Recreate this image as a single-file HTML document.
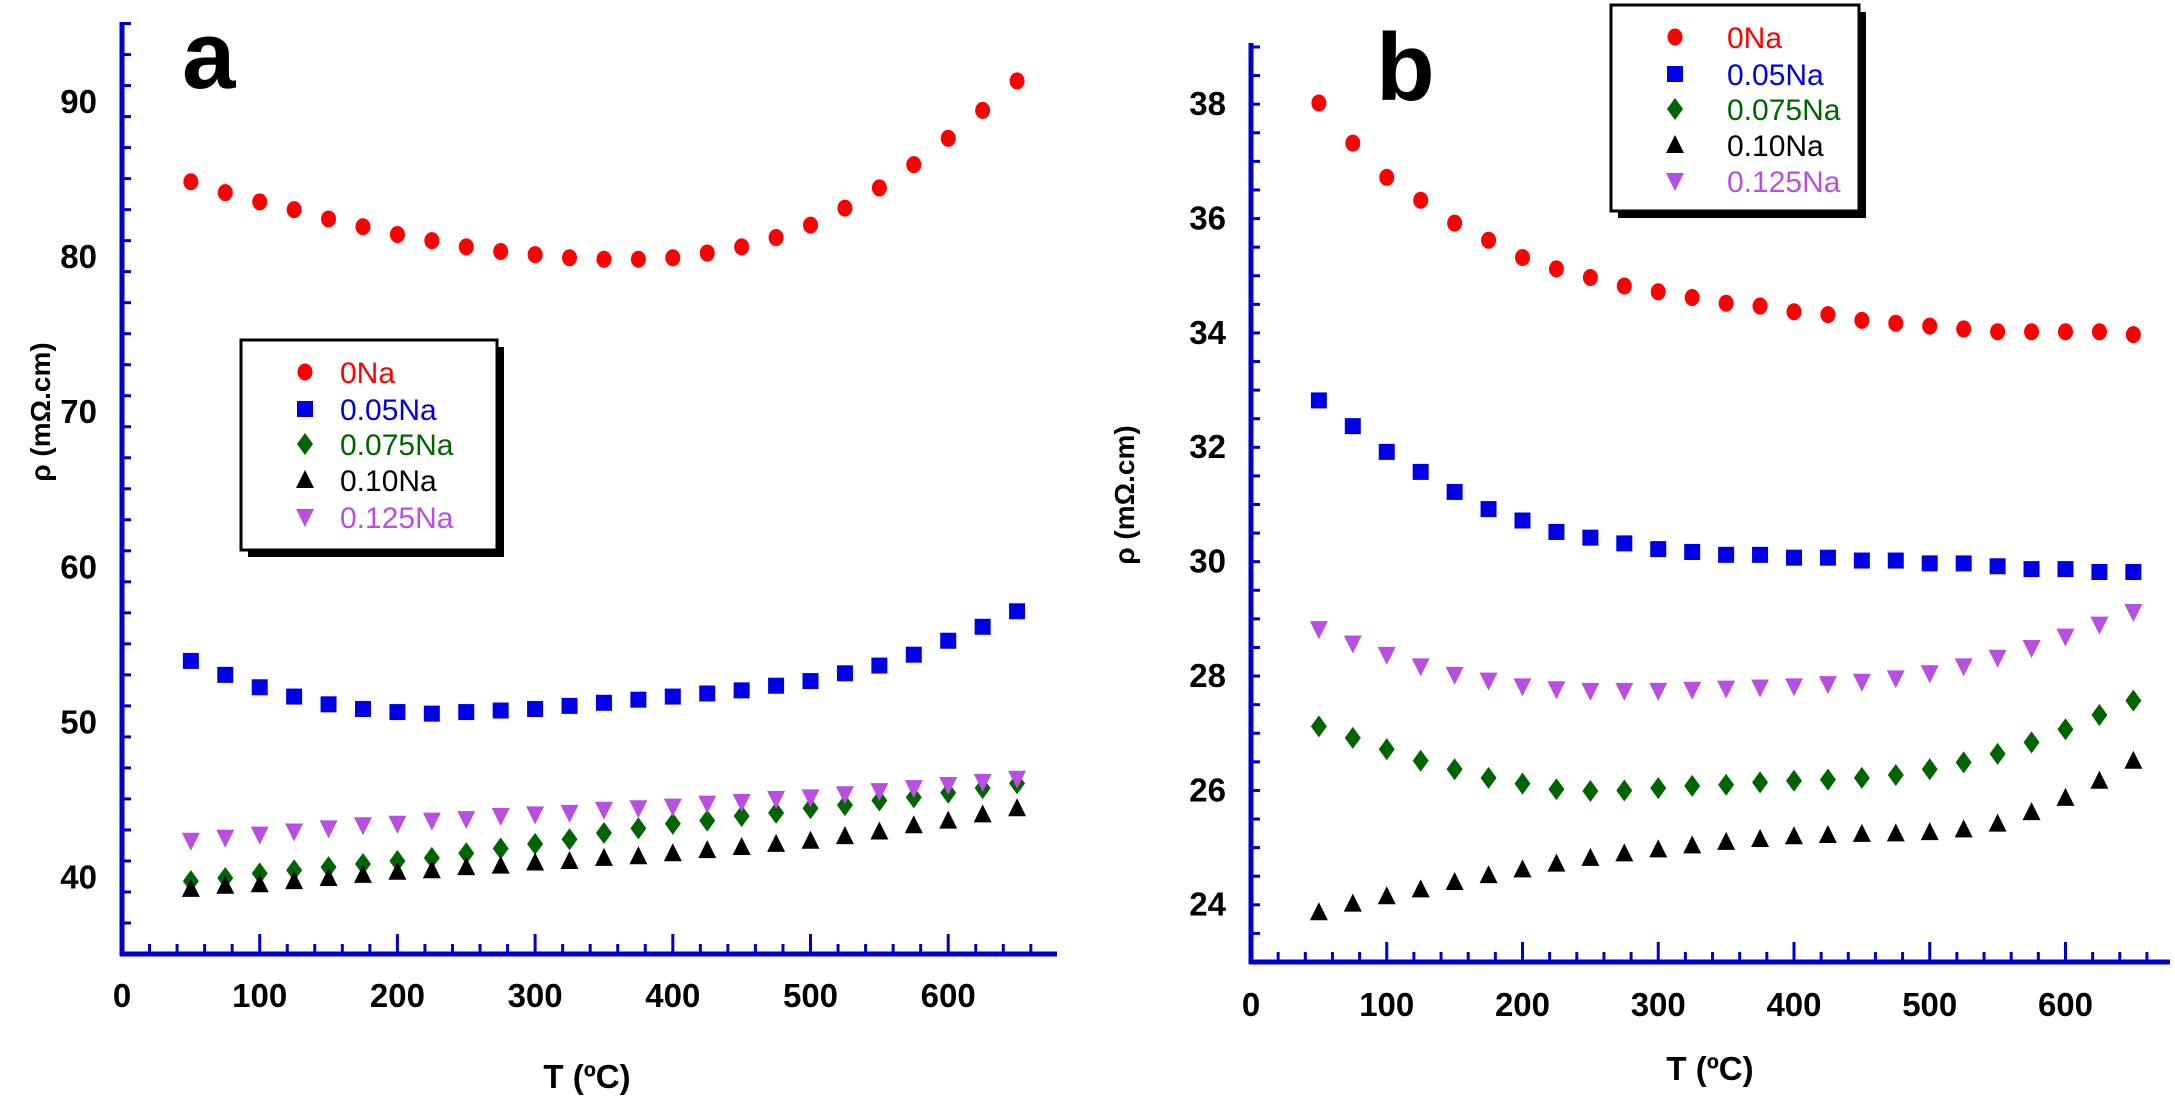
<!DOCTYPE html>
<html><head><meta charset="utf-8"><style>
html,body{margin:0;padding:0;background:#fff}
svg{display:block;font-family:"Liberation Sans",Arial,sans-serif}
</style></head><body>
<svg id="svg" width="2175" height="1096" viewBox="0 0 2175 1096" xmlns="http://www.w3.org/2000/svg"></svg>
<script>
const temps=[50,75,100,125,150,175,200,225,250,275,300,325,350,375,400,425,450,475,500,525,550,575,600,625,650];
const seriesNames=["0Na","0.05Na","0.075Na","0.10Na","0.125Na"];
const xTicks=[0,100,200,300,400,500,600];
const aYTicks=[40,50,60,70,80,90];
const bYTicks=[24,26,28,30,32,34,36,38];
const a0=[84.8,84.1,83.5,83.0,82.4,81.9,81.4,81.0,80.6,80.3,80.1,79.9,79.8,79.8,79.9,80.2,80.6,81.2,82.0,83.1,84.4,85.9,87.6,89.4,91.3];
const a05=[53.9,53.0,52.2,51.6,51.1,50.8,50.6,50.5,50.6,50.7,50.8,51.0,51.2,51.4,51.6,51.8,52.0,52.3,52.6,53.1,53.6,54.3,55.2,56.1,57.1];
const a075=[39.7,39.9,40.2,40.4,40.6,40.8,41.0,41.2,41.5,41.8,42.1,42.4,42.8,43.1,43.4,43.6,43.9,44.1,44.4,44.6,44.9,45.1,45.4,45.7,46.0];
const a10=[39.2,39.4,39.5,39.7,39.9,40.1,40.3,40.4,40.6,40.7,40.9,41.0,41.2,41.3,41.5,41.7,41.9,42.1,42.3,42.6,42.9,43.3,43.6,44.0,44.4];
const a125=[42.3,42.5,42.7,42.9,43.1,43.3,43.4,43.6,43.7,43.9,44.0,44.1,44.3,44.4,44.5,44.7,44.8,45.0,45.1,45.3,45.5,45.7,45.9,46.1,46.3];
const b0=[38.0,37.3,36.7,36.3,35.9,35.6,35.3,35.1,34.95,34.8,34.7,34.6,34.5,34.45,34.35,34.3,34.2,34.15,34.1,34.05,34.0,34.0,34.0,34.0,33.95];
const b05=[32.8,32.35,31.9,31.55,31.2,30.9,30.7,30.5,30.4,30.3,30.2,30.15,30.1,30.1,30.05,30.05,30.0,30.0,29.95,29.95,29.9,29.85,29.85,29.8,29.8];
const b075=[27.1,26.9,26.7,26.5,26.35,26.2,26.1,26.0,25.97,25.98,26.02,26.06,26.08,26.12,26.15,26.17,26.2,26.25,26.35,26.47,26.62,26.82,27.05,27.3,27.55];
const b10=[23.85,24.0,24.13,24.25,24.38,24.5,24.6,24.7,24.8,24.88,24.95,25.02,25.08,25.13,25.18,25.2,25.22,25.23,25.25,25.3,25.4,25.6,25.85,26.15,26.5];
const b125=[28.8,28.55,28.35,28.15,28.0,27.9,27.8,27.75,27.72,27.72,27.72,27.74,27.76,27.78,27.8,27.84,27.88,27.94,28.03,28.15,28.3,28.47,28.67,28.88,29.1];

const NS="http://www.w3.org/2000/svg";
const svg=document.getElementById('svg');
const colors=["#ff0000","#0000e6","#006400","#000000","#b84fe0"];
const shapes=["circle","square","diamond","tri-up","tri-down"];
function el(tag,attrs,parent){const e=document.createElementNS(NS,tag);for(const k in attrs)e.setAttribute(k,attrs[k]);(parent||svg).appendChild(e);return e;}
function marker(shape,x,y,c,g){
  let e;
  if(shape==="circle")e=el('ellipse',{cx:x,cy:y,rx:7.5,ry:8.5,fill:c},g);
  else if(shape==="square")e=el('rect',{x:x-8,y:y-8,width:16,height:16,fill:c},g);
  else if(shape==="diamond")e=el('polygon',{points:`${x},${y-11} ${x+8},${y} ${x},${y+11} ${x-8},${y}`,fill:c},g);
  else if(shape==="tri-up")e=el('polygon',{points:`${x},${y-10} ${x+9},${y+8} ${x-9},${y+8}`,fill:c},g);
  else e=el('polygon',{points:`${x-9},${y-8} ${x+9},${y-8} ${x},${y+10}`,fill:c},g);
  return e;
}
function panel(p){
  const g=el('g',{});
  
  
  const X=v=>p.x0+(v-p.xmin)*(p.x1-p.x0)/(p.xmax-p.xmin);
  const Y=v=>p.y0-(v-p.ymin)*(p.y0-p.y1)/(p.ymax-p.ymin);
  const blue="#0000cc";
  for(let v=p.ymin;v<=p.ymax+1e-6;v+=p.yminor){
    const major=Math.abs(v/p.ymajor-Math.round(v/p.ymajor))<1e-6;
    el('line',{x1:p.x0,x2:p.x0+(major?17:9),y1:Y(v),y2:Y(v),stroke:blue,'stroke-width':3},g);
  }
  for(let v=p.xmin;v<=p.xmax;v+=20){
    const major=v%100===0;
    el('line',{x1:X(v),x2:X(v),y1:p.y0,y2:p.y0-(major?20:10),stroke:blue,'stroke-width':3},g);
  }
  const ya=el('line',{x1:p.x0,x2:p.x0,y1:p.y1,y2:p.y0+2,stroke:blue,'stroke-width':5},g);
  
  const xa=el('line',{x1:p.x0-2,x2:p.x1,y1:p.y0,y2:p.y0,stroke:blue,'stroke-width':5},g);
  
  p.yTicks.forEach(v=>{const t=el('text',{x:p.x0-25,y:Y(v)+12,'text-anchor':'end','font-size':33,'font-weight':'bold'},g);t.textContent=v;
    });
  xTicks.forEach(v=>{const t=el('text',{x:X(v),y:p.xLabelY,'text-anchor':'middle','font-size':33,'font-weight':'bold'},g);t.textContent=v;
    });
  const xt=el('text',{x:p.xTitleX,y:p.xTitleY,'text-anchor':'middle','font-size':33,'font-weight':'bold'},g);xt.textContent='T (ºC)';
  
  const yt=el('text',{x:0,y:0,'text-anchor':'middle','font-size':28,'font-weight':'bold',transform:`translate(${p.yTitleX},${p.yTitleY}) rotate(-90)`},g);yt.textContent='ρ (mΩ.cm)';
  
  const pl=el('text',{x:p.labelX,y:p.labelY,'font-size':96,'font-weight':'bold'},g);pl.textContent=p.label;
  
  p.series.forEach((s,i)=>{
    const sg=el('g',{},g);
    
    
    s.forEach((v,j)=>{const m=marker(shapes[i],X(temps[j]),Y(v),colors[i],sg);
      });
  });
  const L=p.legend;
  const lg=el('g',{},g);
  
  
  el('rect',{x:L.x+7,y:L.y+7,width:L.w,height:L.h,fill:'#000'},lg);
  el('rect',{x:L.x,y:L.y,width:L.w,height:L.h,fill:'#fff',stroke:'#000','stroke-width':3},lg);
  seriesNames.forEach((n,i)=>{
    const ry=L.rowY[i];
    const e=el('g',{},lg);
    
    
    marker(shapes[i],L.mx,ry,colors[i],e);
    const t=el('text',{x:L.tx,y:ry+11,'font-size':L.fs,fill:colors[i]},e);t.textContent=n;
  });
}
panel({name:'panel-a',label:'a',labelX:182,labelY:88,x0:122,x1:1057,y0:954,y1:22,xmin:0,xmax:679,ymin:35,ymax:95.1,ymajor:10,yminor:2,
  yTicks:aYTicks,xLabelY:1007,xTitleX:587,xTitleY:1088,yTitleX:50,yTitleY:412,
  series:[a0,a05,a075,a10,a125],
  legend:{x:241,y:340,w:256,h:210,mx:305,tx:340,rowY:[372,409,444,480,517],fs:30}});
panel({name:'panel-b',label:'b',labelX:1376,labelY:100,x0:1251,x1:2170,y0:962,y1:43,xmin:0,xmax:677,ymin:22.98,ymax:39.05,ymajor:2,yminor:0.5,
  yTicks:bYTicks,xLabelY:1016,xTitleX:1710,xTitleY:1080,yTitleX:1134,yTitleY:495,
  series:[b0,b05,b075,b10,b125],
  legend:{x:1611,y:5,w:248,h:206,mx:1675,tx:1727,rowY:[37,74,109,145,181],fs:30}});
</script>
</body></html>
